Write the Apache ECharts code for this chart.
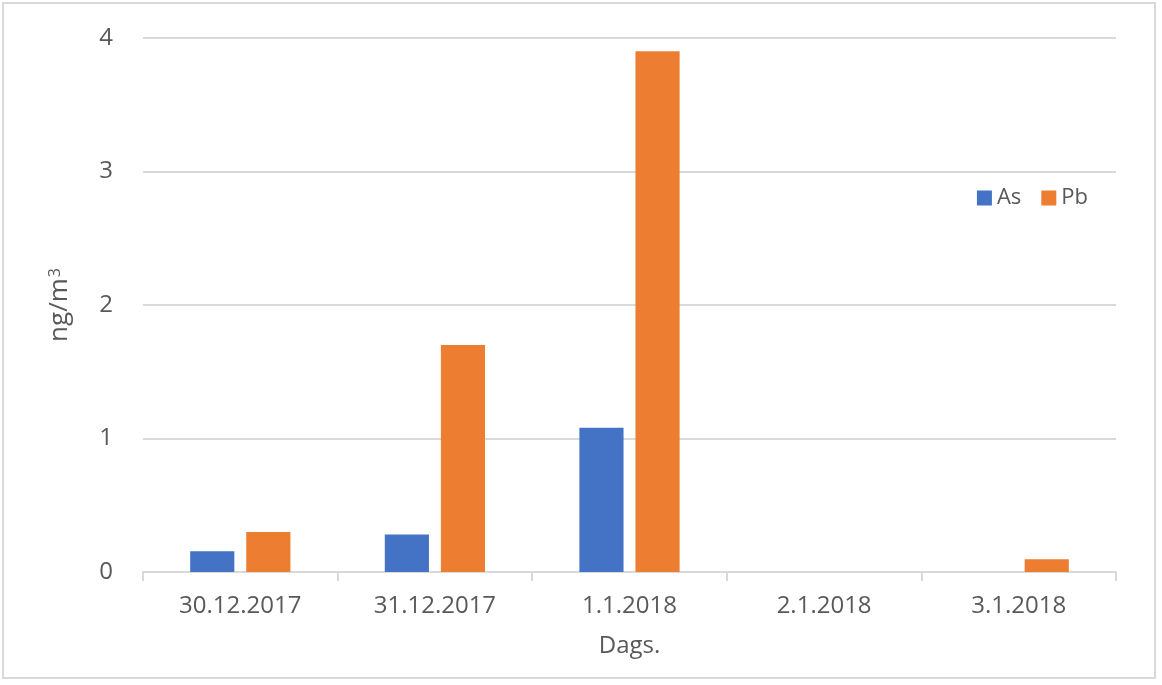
<!DOCTYPE html>
<html><head><meta charset="utf-8">
<script src="https://cdn.jsdelivr.net/npm/echarts@6/dist/echarts.min.js"></script>
<style>html,body{margin:0;padding:0;background:#fff}#c{width:1162px;height:685px;}
#frame{position:absolute;left:2px;top:2px;width:1154px;height:677px;border:2px solid #d9d9d9;pointer-events:none;box-sizing:border-box}</style>
</head><body><div id="c"></div><div id="frame"></div>
<script>
const categories = ["30.12.2017", "31.12.2017", "1.1.2018", "2.1.2018", "3.1.2018"];
const asValues = [0.155, 0.28, 1.08, 0, 0];
const pbValues = [0.30, 1.70, 3.90, 0, 0.095];
const yTicks = [0, 1, 2, 3, 4];
const font = "'Open Sans', 'Noto Sans', sans-serif";
const chart = echarts.init(document.getElementById('c'));
chart.setOption({
  animation: false,
  textStyle: {fontFamily: font},
  grid: {left: 143, right: 46, top: 38, bottom: 113, containLabel: false},
  legend: {
    data: ['As', 'Pb'], right: 69, top: 182, itemWidth: 15, itemHeight: 15, itemGap: 20,
    icon: 'rect', textStyle: {fontSize: 22, color: '#595959', fontFamily: font}
  },
  xAxis: {
    type: 'category', data: categories,
    name: 'Dags.', nameLocation: 'middle', nameGap: 62,
    nameTextStyle: {fontSize: 24, color: '#595959'},
    axisLine: {lineStyle: {color: '#d9d9d9', width: 2}},
    axisTick: {show: true, length: 9, lineStyle: {color: '#d9d9d9', width: 2}},
    axisLabel: {fontSize: 24, color: '#595959', margin: 22},
    splitLine: {show: false}
  },
  yAxis: {
    type: 'value', min: 0, max: 4, interval: 1,
    name: '{b|ng/m}{s|3}', nameLocation: 'middle', nameGap: 70, nameRotate: 90,
    nameTextStyle: {fontSize: 26, color: '#595959',
      rich: {b: {fontSize: 26, color: '#595959', fontFamily: font},
             s: {fontSize: 16, color: '#595959', fontFamily: font, verticalAlign: 'top', padding: [0, 0, 10, 1]}}},
    axisLine: {show: false}, axisTick: {show: false},
    axisLabel: {fontSize: 24, color: '#595959', margin: 30,
      formatter: v => yTicks.includes(v) ? String(v) : ''},
    splitLine: {lineStyle: {color: '#d9d9d9', width: 2}}
  },
  series: [
    {name: 'As', type: 'bar', data: asValues, itemStyle: {color: '#4472c4'},
     barGap: '27%', barCategoryGap: '48.5%'},
    {name: 'Pb', type: 'bar', data: pbValues, itemStyle: {color: '#ed7d31'},
     barGap: '27%', barCategoryGap: '48.5%'}
  ]
});
</script></body></html>
